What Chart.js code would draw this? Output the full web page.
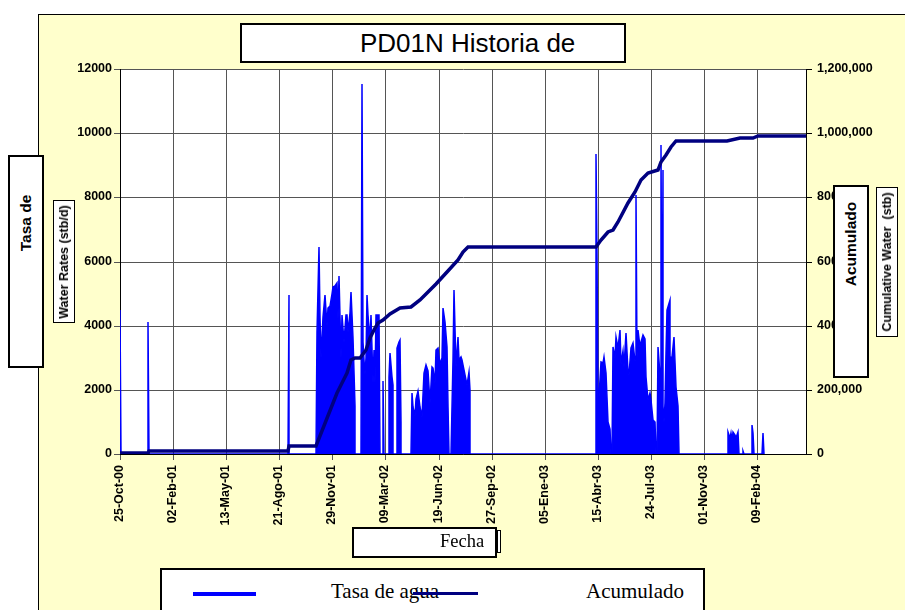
<!DOCTYPE html>
<html>
<head>
<meta charset="utf-8">
<title>PD01N Historia de</title>
<script src="https://cdn.jsdelivr.net/npm/chart.js@4.4.1/dist/chart.umd.min.js"></script>
<style>
  html, body { margin: 0; padding: 0; background: #fff; width: 905px; height: 610px; overflow: hidden; }
  #marco { position: absolute; left: 38px; top: 14px; width: 900px; height: 640px; background: #FFFFCC; border-left: 1px solid #000; border-top: 1px solid #000; }
  #grafico { position: absolute; left: 0; top: 0; }
  .caja { position: absolute; background: #fff; border: 2px solid #000; box-sizing: border-box; }
  .fina { border-width: 1px; }
  .texto { position: absolute; white-space: nowrap; }
  .arial { font-family: "Liberation Sans", Arial, sans-serif; }
  .times { font-family: "Liberation Serif", "Times New Roman", serif; }
  .vert { position: absolute; white-space: nowrap; transform: translate(-50%, -50%) rotate(-90deg); font-family: "Liberation Sans", Arial, sans-serif; font-weight: bold; }
  .muestra { position: absolute; }
</style>
</head>
<body>
<div id="marco"></div>
<canvas id="grafico" width="905" height="610"></canvas>

<!-- titulo -->
<div class="caja" style="left:240px; top:23px; width:386px; height:40px;"></div>
<div class="texto arial" style="left:360px; top:30px; font-size:26px; line-height:26px;">PD01N Historia de</div>

<!-- titulos de ejes -->
<div class="caja" style="left:8px; top:155px; width:36px; height:213px;"></div>
<div class="vert" style="left:26px; top:223px; font-size:15.5px;">Tasa de</div>
<div class="caja fina" style="left:53px; top:200px; width:22px; height:123px;"></div>
<div class="vert" style="left:64px; top:262px; font-size:12.5px;">Water Rates (stb/d)</div>

<div class="caja" style="left:833px; top:185px; width:36px; height:193px;"></div>
<div class="vert" style="left:851px; top:244px; font-size:15.5px;">Acumulado</div>
<div class="caja fina" style="left:876px; top:187px; width:22px; height:150px;"></div>
<div class="vert" style="left:887px; top:262px; font-size:12.5px;">Cumulative Water&nbsp;&nbsp;(stb)</div>

<div class="caja" style="left:352px; top:527px; width:145px; height:31px;"></div>
<div class="caja fina" style="left:497px; top:530px; width:4px; height:23px;"></div>
<div class="texto times" style="left:440px; top:532px; font-size:18.5px; line-height:18.5px;">Fecha</div>

<!-- leyenda -->
<div class="caja" style="left:160px; top:568px; width:545px; height:70px;"></div>
<div class="muestra" style="left:193px; top:592px; width:63px; height:4px; background:#0000FF;"></div>
<div class="texto times" style="left:331px; top:581px; font-size:21px; line-height:21px;">Tasa de agua</div>
<div class="muestra" style="left:413px; top:592px; width:65px; height:3px; background:#000080;"></div>
<div class="texto times" style="left:586px; top:581px; font-size:21px; line-height:21px;">Acumulado</div>

<script>
// dias contados desde 25-Oct-00
const tickDays = [0, 100, 200, 300, 400, 500, 600, 700, 800, 900, 1000, 1100, 1200];
const tickLabels = ["25-Oct-00", "02-Feb-01", "13-May-01", "21-Ago-01", "29-Nov-01", "09-Mar-02",
  "19-Jun-02", "27-Sep-02", "05-Ene-03", "15-Abr-03", "24-Jul-03", "01-Nov-03", "09-Feb-04"];
const lastDay = 1292;

// tasa de agua (stb/d)
const rateDays = [
  0, 1, 52, 53, 54, 317, 318, 319,
  369, 371, 374, 376, 379, 383, 386, 389, 392, 396, 399, 402, 405, 408, 410, 413, 416, 419, 422, 425, 427, 430, 433, 435, 439, 442, 443,
  453, 455, 457, 459, 461, 463, 466, 468, 471, 473, 476, 478, 480, 483, 486, 488, 490,
  495, 496, 498,
  506, 507, 509, 512, 514, 515,
  521, 522, 525, 527, 529, 530,
  548, 550, 552, 555, 558, 562, 565, 568, 572, 577, 580, 584, 587, 590, 593, 596, 599, 603, 606, 609, 612, 615, 618, 620,
  624, 627, 629, 632, 636, 639, 642, 644, 648, 653, 657, 659, 660,
  896, 897, 899, 901, 903, 906, 909, 912, 915, 919, 922, 924,
  927, 928, 932, 935, 938, 941, 944, 947, 950, 953, 956, 959, 962, 966, 969, 971, 972, 974, 976, 979, 982, 985, 988, 991, 994, 998, 1001, 1004, 1007, 1009,
  1012, 1013, 1016, 1018, 1019, 1020, 1021, 1022, 1023, 1024, 1027, 1029, 1031, 1035, 1036, 1039, 1044, 1047, 1050, 1052,
  1145, 1146, 1149, 1151, 1153, 1155, 1158, 1161, 1164, 1166,
  1173, 1174, 1175,
  1190, 1191, 1193, 1194,
  1210, 1211, 1212
];
const rateValues = [
  4500, 0, 0, 4120, 0, 0, 4950, 0,
  0, 3800, 6460, 4270, 3000, 4270, 4950, 4000, 4550, 4600, 5000, 5200, 5250, 5330, 4200, 5550, 3000, 4330, 3500, 4330, 4330, 3800, 4400, 5060, 3610, 1500, 0,
  0, 11530, 3500, 2930, 2500, 3000, 4950, 4330, 3550, 4330, 2210, 3240, 2210, 4330, 4330, 4330, 0,
  0, 2280, 0,
  0, 2400, 3160, 2410, 2140, 0,
  0, 3300, 3490, 3550, 1000, 0,
  0, 1910, 1460, 1200, 1700, 1950, 1460, 1160, 2520, 2770, 2600, 1600, 2700, 2670, 2200, 3240, 3300, 2800, 2980, 4540, 4120, 3340, 1500, 0,
  0, 2930, 5110, 2700, 3660, 2930, 3030, 2930, 2620, 2150, 2570, 2000, 0,
  0, 9350, 6250, 1500, 1790, 2880, 2850, 3030, 2520, 1010, 780, 0,
  0, 3340, 3000, 3660, 3300, 3860, 2800, 3200, 2700, 3760, 2600, 2460, 3300, 3450, 2900, 3000, 8070, 3000, 3860, 3340, 3500, 3710, 3600, 2410, 1680, 1900, 1680, 1060, 1000, 0,
  0, 3340, 2900, 2000, 9630, 2000, 2000, 8850, 1500, 1000, 1580, 3140, 4490, 4800, 3000, 3030, 3660, 2100, 1500, 0,
  0, 700, 500, 650, 450, 700, 600, 500, 700, 0,
  0, 100, 0,
  0, 900, 650, 0,
  0, 640, 0
];

// agua acumulada (stb)
const cumDays = [0, 52, 54, 316, 319, 370, 408, 417, 427, 436, 443, 452, 463, 471, 480, 486, 496, 509, 527, 549,
  565, 578, 596, 615, 637, 646, 656, 897, 906, 919, 928, 938, 957, 969, 982, 994, 1013, 1019, 1029, 1038, 1048,
  1143, 1168, 1192, 1202, 1292];
const cumValues = [4500, 4500, 9500, 9500, 25000, 25000, 189000, 215000, 251000, 293000, 298000, 298000, 324000,
  361000, 392000, 407000, 418000, 435000, 454000, 459000, 480000, 501000, 530000, 568000, 605000, 630000, 646000,
  646000, 667000, 693000, 697000, 724000, 781000, 818000, 854000, 875000, 885000, 911000, 932000, 958000, 976000,
  976000, 986000, 986000, 991000, 991000];

const toPoints = (xs, ys) => xs.map((d, i) => ({ x: d, y: ys[i] }));

const tickFont = { family: "'Liberation Sans', Arial, sans-serif", size: 12.5, weight: "bold" };

// fondo blanco solo dentro del area de trazado
const fondoArea = {
  id: "fondoArea",
  beforeDraw(chart) {
    const a = chart.chartArea;
    const ctx = chart.ctx;
    ctx.save();
    ctx.fillStyle = "#ffffff";
    ctx.fillRect(a.left, a.top, a.right - a.left, a.bottom - a.top);
    ctx.restore();
  }
};

new Chart(document.getElementById("grafico"), {
  type: "line",
  data: {
    datasets: [
      {
        label: "Acumulado",
        data: toPoints(cumDays, cumValues),
        yAxisID: "y2",
        borderColor: "#000080",
        borderWidth: 3.5,
        pointRadius: 0,
        tension: 0,
        fill: false,
        order: 0
      },
      {
        label: "Tasa de agua",
        data: toPoints(rateDays, rateValues),
        yAxisID: "y",
        borderColor: "#0000FF",
        backgroundColor: "#0000FF",
        borderWidth: 1.5,
        pointRadius: 0,
        tension: 0,
        fill: "origin",
        order: 1
      }
    ]
  },
  options: {
    responsive: false,
    animation: false,
    devicePixelRatio: 1,
    layout: { padding: { top: 69, left: 0, right: 0, bottom: 0 } },
    plugins: { legend: { display: false }, tooltip: { enabled: false } },
    scales: {
      x: {
        type: "linear",
        min: 0,
        max: lastDay,
        alignToPixels: true,
        afterBuildTicks: (s) => { s.ticks = tickDays.map((v) => ({ value: v })); },
        afterFit: (s) => { s.height = 156; },
        ticks: {
          autoSkip: false,
          maxRotation: 90,
          minRotation: 90,
          padding: 5,
          color: "#000",
          font: tickFont,
          callback: (v) => tickLabels[tickDays.indexOf(v)]
        },
        grid: { color: "#555", lineWidth: 1, tickLength: 6 },
        border: { color: "#000" }
      },
      y: {
        position: "left",
        min: 0,
        max: 12000,
        alignToPixels: true,
        afterFit: (s) => { s.width = 120; },
        ticks: { stepSize: 2000, padding: 2, color: "#000", font: tickFont, callback: (v) => String(v) },
        grid: { color: "#555", lineWidth: 1, tickLength: 6 },
        border: { color: "#000" }
      },
      y2: {
        position: "right",
        min: 0,
        max: 1200000,
        alignToPixels: true,
        afterFit: (s) => { s.width = 99; },
        ticks: { stepSize: 200000, padding: 5, color: "#000", font: tickFont, callback: (v) => v.toLocaleString("en-US") },
        grid: { drawOnChartArea: false, color: "#000", tickLength: 6 },
        border: { color: "#000" }
      }
    }
  },
  plugins: [fondoArea]
});
</script>
</body>
</html>
